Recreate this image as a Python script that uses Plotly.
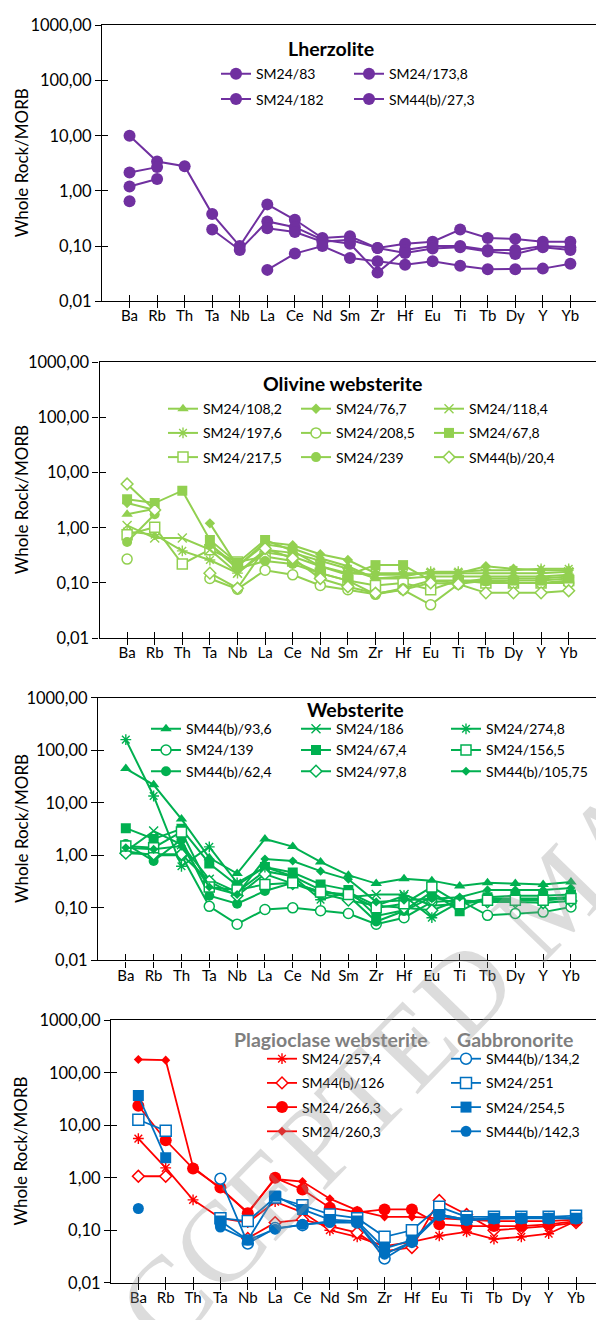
import plotly.graph_objects as go

W, H = 596, 1320

elements = ["Ba", "Rb", "Th", "Ta", "Nb", "La", "Ce", "Nd", "Sm", "Zr", "Hf", "Eu", "Ti", "Tb", "Dy", "Y", "Yb"]
ytick_vals = [0.01, 0.1, 1, 10, 100, 1000]
ytick_text = ["0,01", "0,10", "1,00", "10,00", "100,00", "1000,00"]

# ---- Lherzolite ----
lhz_names = ["SM24/83", "SM24/173,8", "SM24/182", "SM44(b)/27,3"]
lhz_83 = [10.0, 3.4, 2.8, 0.38, 0.10, 0.57, 0.30, 0.14, 0.15, 0.092, 0.11, 0.12, 0.20, 0.14, 0.135, 0.12, 0.12]
lhz_173_8 = [2.16, 2.7, None, 0.20, 0.085, 0.28, 0.22, 0.13, 0.11, 0.033, 0.085, 0.10, 0.10, 0.085, 0.085, 0.10, 0.095]
lhz_182 = [1.2, 1.65, None, None, None, 0.21, 0.18, 0.12, 0.13, 0.092, 0.075, 0.09, 0.095, 0.08, 0.072, 0.095, 0.085]
lhz_27_3 = [0.65, None, None, None, None, 0.037, 0.073, 0.10, 0.061, 0.053, 0.046, 0.053, 0.044, 0.038, 0.038, 0.039, 0.048]

# ---- Olivine websterite ----
ow_names = ["SM24/108,2", "SM24/76,7", "SM24/118,4", "SM24/197,6", "SM24/208,5", "SM24/67,8", "SM24/217,5", "SM24/239", "SM44(b)/20,4"]
ow_108_2 = [1.75, 2.2, None, 0.5, 0.2, 0.5, 0.42, 0.28, 0.2, 0.12, 0.12, 0.13, 0.13, 0.13, 0.13, 0.13, 0.14]
ow_76_7 = [2.8, 2.1, None, 1.2, 0.2, 0.55, 0.48, 0.33, 0.26, 0.15, 0.15, 0.15, 0.15, 0.2, 0.18, 0.17, 0.17]
ow_118_4 = [1.1, 0.65, 0.65, 0.4, 0.15, 0.36, 0.3, 0.2, 0.15, 0.14, 0.14, 0.15, 0.15, 0.15, 0.15, 0.15, 0.16]
ow_197_6 = [0.85, 0.75, 0.38, 0.26, 0.15, 0.4, 0.35, 0.25, 0.18, 0.12, 0.13, 0.16, 0.16, 0.17, 0.17, 0.18, 0.18]
ow_208_5 = [0.27, None, None, 0.12, 0.077, 0.17, 0.14, 0.09, 0.075, 0.062, 0.075, 0.04, 0.095, 0.11, 0.1, 0.1, 0.1]
ow_67_8 = [3.3, 2.8, 4.7, 0.6, 0.23, 0.6, 0.38, 0.2, 0.14, 0.21, 0.21, 0.11, 0.11, 0.11, 0.11, 0.11, 0.12]
ow_217_5 = [0.75, 1.02, 0.22, 0.4, 0.24, 0.3, 0.25, 0.15, 0.11, 0.09, 0.1, 0.075, 0.11, 0.1, 0.1, 0.1, 0.11]
ow_239 = [0.55, 1.75, None, 0.5, 0.18, 0.25, 0.22, 0.15, 0.11, 0.062, 0.08, 0.11, 0.1, 0.12, 0.12, 0.12, 0.13]
ow_20_4 = [6.2, 2.1, None, 0.15, 0.08, 0.42, 0.28, 0.12, 0.085, 0.065, 0.075, 0.1, 0.095, 0.066, 0.066, 0.066, 0.072]

# ---- Websterite ----
ws_names = ["SM44(b)/93,6", "SM24/186", "SM24/274,8", "SM24/139", "SM24/67,4", "SM24/156,5", "SM44(b)/62,4", "SM24/97,8", "SM44(b)/105,75"]
ws_93_6 = [45, 22, 4.9, 0.9, 0.45, 2.05, 1.47, 0.75, 0.42, 0.29, 0.36, 0.33, 0.26, 0.3, 0.29, 0.28, 0.31]
ws_186 = [1.2, 2.9, 1.6, 0.35, 0.2, 0.5, 0.4, 0.22, 0.16, 0.18, 0.18, 0.11, 0.12, 0.15, 0.15, 0.15, 0.16]
ws_274_8 = [160, 13.5, 0.62, 1.45, 0.3, 0.6, 0.4, 0.143, 0.2, 0.11, 0.17, 0.065, 0.13, 0.14, 0.14, 0.15, 0.16]
ws_139 = [1.2, 1.0, 1.0, 0.107, 0.049, 0.093, 0.1, 0.088, 0.078, 0.049, 0.065, 0.13, 0.14, 0.072, 0.078, 0.083, 0.104]
ws_67_4 = [3.3, 2.05, 3.2, 0.7, 0.27, 0.6, 0.47, 0.28, 0.22, 0.07, 0.09, 0.2, 0.086, 0.16, 0.17, 0.17, 0.18]
ws_156_5 = [1.5, 1.4, 2.8, 0.25, 0.22, 0.28, 0.3, 0.2, 0.18, 0.1, 0.12, 0.25, 0.12, 0.14, 0.14, 0.14, 0.15]
ws_62_4 = [1.65, 0.78, 2.0, 0.17, 0.12, 0.21, 0.3, 0.2, 0.17, 0.055, 0.087, 0.16, 0.12, 0.14, 0.14, 0.14, 0.16]
ws_97_8 = [1.1, 1.05, 1.05, 0.32, 0.17, 0.44, 0.29, 0.19, 0.14, 0.11, 0.1, 0.09, 0.14, 0.13, 0.13, 0.125, 0.135]
ws_105_75 = [1.4, 1.3, 1.5, 0.25, 0.18, 0.85, 0.78, 0.5, 0.35, 0.13, 0.14, 0.15, 0.16, 0.22, 0.22, 0.22, 0.24]

# ---- Plagioclase websterite / Gabbronorite ----
pw_names = ["SM24/257,4", "SM44(b)/126", "SM24/266,3", "SM24/260,3"]
pw_257_4 = [5.6, 1.55, 0.38, 0.17, 0.14, 0.35, 0.22, 0.1, 0.075, 0.05, 0.06, 0.078, 0.093, 0.068, 0.075, 0.086, 0.15]
pw_126 = [1.07, 1.07, None, None, 0.07, 0.14, 0.16, 0.12, 0.09, 0.04, 0.047, 0.37, 0.2, 0.1, 0.11, 0.12, 0.14]
pw_266_3 = [23.7, 5.2, 1.5, 0.65, 0.21, 1.0, 0.6, 0.27, 0.22, 0.25, 0.25, 0.13, 0.12, 0.12, 0.12, 0.13, 0.15]
pw_260_3 = [180, 175, 1.6, 0.62, 0.22, 0.95, 0.85, 0.4, 0.24, 0.18, 0.18, 0.17, 0.16, 0.15, 0.15, 0.15, 0.16]
gn_names = ["SM44(b)/134,2", "SM24/251", "SM24/254,5", "SM44(b)/142,3"]
gn_134_2 = [None, None, None, 0.96, 0.056, 0.11, 0.125, 0.15, 0.14, 0.029, 0.06, 0.2, 0.16, 0.17, 0.17, 0.17, 0.17]
gn_251 = [12.8, 7.9, None, 0.17, 0.15, 0.42, 0.3, 0.2, 0.17, 0.075, 0.1, 0.28, 0.18, 0.18, 0.18, 0.18, 0.19]
gn_254_5 = [37, 2.4, None, 0.15, 0.065, 0.45, 0.25, 0.16, 0.15, 0.045, 0.065, 0.2, 0.16, 0.17, 0.17, 0.17, 0.17]
gn_142_3 = [0.26, None, None, 0.115, 0.065, 0.105, 0.13, 0.14, 0.14, 0.035, 0.06, 0.19, 0.155, 0.165, 0.17, 0.17, 0.165]

PURPLE = "#7030A0"
LGREEN = "#92D050"
GREEN = "#00B050"
RED = "#FF0000"
BLUE = "#0070C0"
FONT = "Lato, 'Open Sans', sans-serif"


def px_x(x):
    return x / W


def px_y(y):
    return 1 - y / H


def marker(sym, color, size):
    if sym in ("circle-o", "square-o", "diamond-o"):
        return dict(symbol=sym[:-2], size=size, color="white", line=dict(color=color, width=1.5))
    if sym in ("x-thin", "asterisk"):
        return dict(symbol=sym, size=size, color=color, line=dict(color=color, width=1.4))
    return dict(symbol=sym, size=size, color=color, line=dict(width=0))


fig = go.Figure()

# panels: (axis suffix, left px, top px, bottom px, x range max)
panels = [
    ("", 102, 15.7, 295.7, 16.93),
    ("2", 99.5, 357.7, 637.7, 16.99),
    ("3", 98, 698.4, 965, 16.9),
    ("4", 111, 1026, 1292.3, 16.73),
]

counter = [0]


def add_series(panel_idx, name, values, color, sym, size, legend, lw=2):
    sfx = panels[panel_idx][0]
    counter[0] += 1
    fig.add_trace(go.Scatter(
        x=elements, y=values, name=name, mode="lines+markers",
        line=dict(color=color, width=lw), marker=marker(sym, color, size),
        xaxis="x" + sfx, yaxis="y" + sfx, legend=legend, connectgaps=False,
        legendgroup="g%d" % counter[0], hoverinfo="skip"))


# Lherzolite
lhz_vals = [lhz_83, lhz_173_8, lhz_182, lhz_27_3]
lhz_leg = ["legend", "legend2", "legend", "legend2"]
for n, v, lg in zip(lhz_names, lhz_vals, lhz_leg):
    add_series(0, n, v, PURPLE, "circle", 12, lg)

# Olivine websterite
ow_vals = [ow_108_2, ow_76_7, ow_118_4, ow_197_6, ow_208_5, ow_67_8, ow_217_5, ow_239, ow_20_4]
ow_sym = [("triangle-up", 10), ("diamond", 8), ("x-thin", 9), ("asterisk", 9), ("circle-o", 10),
          ("square", 10), ("square-o", 10), ("circle", 10), ("diamond-o", 9)]
ow_leg = ["legend3", "legend4", "legend5"] * 3
order = [0, 3, 6, 1, 4, 7, 2, 5, 8]
for i in order:
    add_series(1, ow_names[i], ow_vals[i], LGREEN, ow_sym[i][0], ow_sym[i][1], ow_leg[i])

# Websterite
ws_vals = [ws_93_6, ws_186, ws_274_8, ws_139, ws_67_4, ws_156_5, ws_62_4, ws_97_8, ws_105_75]
ws_sym = [("triangle-up", 10), ("x-thin", 9), ("asterisk", 9), ("circle-o", 10), ("square", 10),
          ("square-o", 10), ("circle", 10), ("diamond-o", 9), ("diamond", 7)]
ws_leg = ["legend6", "legend7", "legend8"] * 3
for i in order:
    add_series(2, ws_names[i], ws_vals[i], GREEN, ws_sym[i][0], ws_sym[i][1], ws_leg[i])

# Plagioclase websterite
pw_vals = [pw_257_4, pw_126, pw_266_3, pw_260_3]
pw_sym = [("asterisk", 9), ("diamond-o", 9), ("circle", 12), ("diamond", 7)]
for n, v, s in zip(pw_names, pw_vals, pw_sym):
    add_series(3, n, v, RED, s[0], s[1], "legend9", lw=1.8)

# Gabbronorite
gn_vals = [gn_134_2, gn_251, gn_254_5, gn_142_3]
gn_sym = [("circle-o", 11), ("square-o", 11), ("square", 11), ("circle", 11)]
for n, v, s in zip(gn_names, gn_vals, gn_sym):
    add_series(3, n, v, BLUE, s[0], s[1], "legend10", lw=1.8)

layout = dict(
    width=W, height=H, margin=dict(l=0, r=0, t=0, b=0),
    paper_bgcolor="white", plot_bgcolor="white",
    font=dict(family=FONT, size=15, color="black"),
    annotations=[],
)

tick_idx = list(range(len(elements)))
for k, (sfx, left, top, bot, xmax) in enumerate(panels):
    xd = [px_x(left), 1.0]
    yd = [px_y(bot), px_y(top)]
    layout["xaxis" + sfx] = dict(
        domain=xd, anchor="y" + sfx, type="category", range=[-1, xmax],
        showline=True, linecolor="black", linewidth=1.3, mirror=True,
        ticks="outside", ticklen=6, tickcolor="black", tickwidth=1.3,
        showgrid=False, zeroline=False, tickfont=dict(size=15, family=FONT),
        ticklabelstandoff=-5)
    layout["yaxis" + sfx] = dict(
        domain=yd, anchor="x" + sfx, type="log", range=[-2, 3],
        tickvals=ytick_vals, ticktext=ytick_text,
        showline=True, linecolor="black", linewidth=1.3,
        ticks="outside", ticklen=6, tickcolor="black", tickwidth=1.3,
        showgrid=False, zeroline=False, tickfont=dict(size=16.5, family=FONT))
    # overlay axes giving the inner half of the crossing tick marks
    ox = str(5 + k)
    layout["xaxis" + ox] = dict(
        overlaying="x" + sfx, anchor="y" + sfx, type="linear", range=[-1, xmax],
        tickvals=tick_idx, ticks="inside", ticklen=6, tickcolor="black", tickwidth=1.3,
        showticklabels=False, showline=False, showgrid=False, zeroline=False)
    layout["yaxis" + ox] = dict(
        overlaying="y" + sfx, anchor="x" + sfx, type="log", range=[-2, 3],
        tickvals=ytick_vals, ticks="inside", ticklen=6, tickcolor="black", tickwidth=1.3,
        showticklabels=False, showline=False, showgrid=False, zeroline=False, side="left")
    fig.add_trace(go.Scatter(x=[None], y=[None], xaxis="x" + ox, yaxis="y" + sfx,
                             showlegend=False, hoverinfo="skip"))
    fig.add_trace(go.Scatter(x=[None], y=[None], xaxis="x" + sfx, yaxis="y" + ox,
                             showlegend=False, hoverinfo="skip"))
    layout["annotations"].append(dict(
        text="Whole Rock/MORB", textangle=-90, xref="paper", yref="paper",
        x=px_x(21), y=px_y((top + bot) / 2), showarrow=False,
        xanchor="center", yanchor="middle", font=dict(size=17, family=FONT)))

# panel titles
titles = [
    ("<b>Lherzolite</b>", 331, 39, "black"),
    ("<b>Olivine websterite</b>", 342, 379, "black"),
    ("<b>Websterite</b>", 355, 710, "black"),
    ("<b>Plagioclase websterite</b>", 331, 1045, "#7F7F7F"),
    ("<b>Gabbronorite</b>", 515, 1045, "#7F7F7F"),
]
for t, x, y, c in titles:
    layout["annotations"].append(dict(
        text=t, xref="paper", yref="paper", x=px_x(x), y=px_y(y), showarrow=False,
        xanchor="center", yanchor="middle", font=dict(size=19.5, family=FONT, color=c)))

# legends: (name, line-start px x, top px y, gap between rows)
legend_pos = [
    ("legend", 224, 49, 4), ("legend2", 357, 49, 4),
    ("legend3", 171, 389, 3), ("legend4", 304, 389, 3), ("legend5", 437, 389, 3),
    ("legend6", 154, 714, 0), ("legend7", 304, 714, 0), ("legend8", 454, 714, 0),
    ("legend9", 270, 1049, 3), ("legend10", 454, 1049, 3),
]
for name, lx, top_y, gap in legend_pos:
    layout[name] = dict(
        x=px_x(lx - 8), y=px_y(top_y), xanchor="left", yanchor="top",
        bgcolor="rgba(0,0,0,0)", borderwidth=0, tracegroupgap=gap,
        font=dict(size=14, family=FONT), orientation="v", itemclick=False)

# "ACCEPTED MANUSCRIPT" watermark of the source page
layout["annotations"].append(dict(
    text="ACCEPTED MANUSCRIPT", xref="paper", yref="paper", x=px_x(555), y=px_y(900),
    showarrow=False, textangle=-46, xanchor="center", yanchor="middle",
    font=dict(size=115, family="Liberation Serif", color="rgba(150,150,150,0.33)")))

fig.update_layout(**layout)
fig.write_html("out.html", config={"displayModeBar": False},
               post_script="document.body.style.margin='0';document.body.style.overflow='hidden';")
